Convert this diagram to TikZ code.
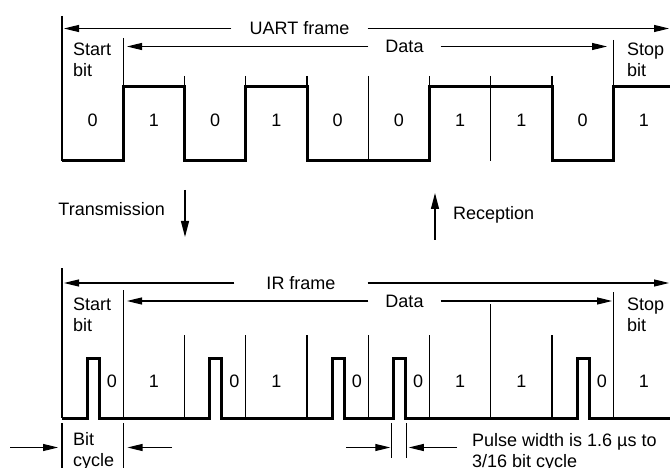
\documentclass[tikz,border=0pt]{standalone}
\usepackage{fontspec}
\setmainfont{Liberation Sans}
\usetikzlibrary{arrows.meta}
\newcommand{\bitw}{61.25}

\begin{document}
\begin{tikzpicture}[x=1pt,y=-1pt,
  every node/.style={inner sep=0pt,font=\fontsize{18}{21}\selectfont},
  tick/.style={line width=1.2pt},
  sig/.style={line width=3pt},
  lbl/.style={align=left,anchor=north west},
  frmlbl/.style={inner xsep=18pt},
  arr/.style={line width=1.2pt,-{Triangle[length=15pt,width=7pt]}},
  varr/.style={line width=1.2pt,-{Triangle[length=16pt,width=8pt]}}]
\useasboundingbox (0,0) rectangle (670,468);

% UART frame
\draw[tick] (62,16) -- (62,161);
\draw[tick] (62+\bitw,38) -- (62+\bitw,161);
\draw[tick] (62+9*\bitw,40) -- (62+9*\bitw,161);
\foreach \i in {2,...,8} \draw[tick] (62+\i*\bitw,76) -- (62+\i*\bitw,161);
\draw[sig] (62,161) -| (62+\bitw,87) -| (62+2*\bitw,161) -| (62+3*\bitw,87)
  -| (62+4*\bitw,161) -| (62+6*\bitw,87) -| (62+8*\bitw,161) -| (62+9*\bitw,87) -- (670,87);
\foreach \d [count=\i from 0] in {0,1,0,1,0,0,1,1,0,1}
  \node (ub\i) [anchor=base] at (62+\i*\bitw+\bitw/2,127) {\d};

\node (uart) [frmlbl] at (299.5,28.5) {UART frame};
\coordinate (uartL) at (64,28.5);
\coordinate (uartR) at (669,28.5);
\draw[arr] (uart) -- (uartL);
\draw[arr] (uart) -- (uartR);

\node (udata) [frmlbl,inner xsep=17pt] at (404.5,46.5) {Data};
\coordinate (udataL) at (127,46.5);
\coordinate (udataR) at (607,46.5);
\draw[arr] (udata) -- (udataL);
\draw[arr] (udata) -- (udataR);

\node (ustart) [lbl] at (73,43) {Start\\bit};
\node (ustop) [lbl] at (627,43) {Stop\\bit};

% transmission / reception
\node (tx) [anchor=base east] at (165,215) {Transmission};
\coordinate (txA) at (185,190);
\coordinate (txB) at (185,237);
\draw[varr] (txA) -- (txB);
\node (rx) [anchor=base west] at (453,219.3) {Reception};
\coordinate (rxA) at (435,240);
\coordinate (rxB) at (435,193);
\draw[varr] (rxA) -- (rxB);

% IR frame
\draw[tick] (62,268) -- (62,418);
\draw[tick] (62+\bitw,290) -- (62+\bitw,418);
\draw[tick] (62+9*\bitw,292) -- (62+9*\bitw,418);
\foreach \i/\yt in {2/335,3/335,4/335,5/335,6/335,7/304,8/335}
  \draw[tick] (62+\i*\bitw,\yt) -- (62+\i*\bitw,418);
\draw[sig] (62,418) \foreach \i in {0,2,4,5,8} { -- (62+\i*\bitw+25,418) -- ++(0,-60) -- ++(12,0) -- ++(0,60) } -- (670,418);
\foreach \i in {0,2,4,5,8} \node (ib\i) [anchor=base] at (62+\i*\bitw+50,387) {0};
\foreach \i in {1,3,6,7,9} \node (ib\i) [anchor=base] at (62+\i*\bitw+\bitw/2,387) {1};

\node (ir) [frmlbl,inner xsep=32pt] at (301,283) {IR frame};
\coordinate (irL) at (64,283);
\coordinate (irR) at (669,283);
\draw[arr] (ir) -- (irL);
\draw[arr] (ir) -- (irR);

\node (idata) [frmlbl,inner xsep=17pt] at (404.5,301) {Data};
\coordinate (idataL) at (127,301);
\coordinate (idataR) at (612,301);
\draw[arr] (idata) -- (idataL);
\draw[arr] (idata) -- (idataR);

\node (istart) [lbl] at (73,298) {Start\\bit};
\node (istop) [lbl] at (627,298) {Stop\\bit};

% bit cycle
\draw[tick] (62,423) -- (62,468);
\draw[tick] (62+\bitw,423) -- (62+\bitw,468);
\node (bitcyc) [lbl] at (73,432) {Bit\\cycle};
\coordinate (bcA) at (10,447.5);
\coordinate (bcAt) at (58,447.5);
\coordinate (bcB) at (172,447.5);
\coordinate (bcBt) at (127.5,447.5);
\draw[arr] (bcA) -- (bcAt);
\draw[arr] (bcB) -- (bcBt);

% pulse width
\draw[tick] (62+5*\bitw+23.5,423) -- (62+5*\bitw+23.5,458);
\draw[tick] (62+5*\bitw+38.5,423) -- (62+5*\bitw+38.5,458);
\coordinate (pwA) at (346,447.5);
\coordinate (pwAt) at (62+5*\bitw+22,447.5);
\coordinate (pwB) at (457,447.5);
\coordinate (pwBt) at (62+5*\bitw+40.5,447.5);
\draw[arr] (pwA) -- (pwAt);
\draw[arr] (pwB) -- (pwBt);
\node (pw) [lbl] at (472,433.5) {Pulse width is 1.6 µs to\\3/16 bit cycle};
\end{tikzpicture}
\end{document}
